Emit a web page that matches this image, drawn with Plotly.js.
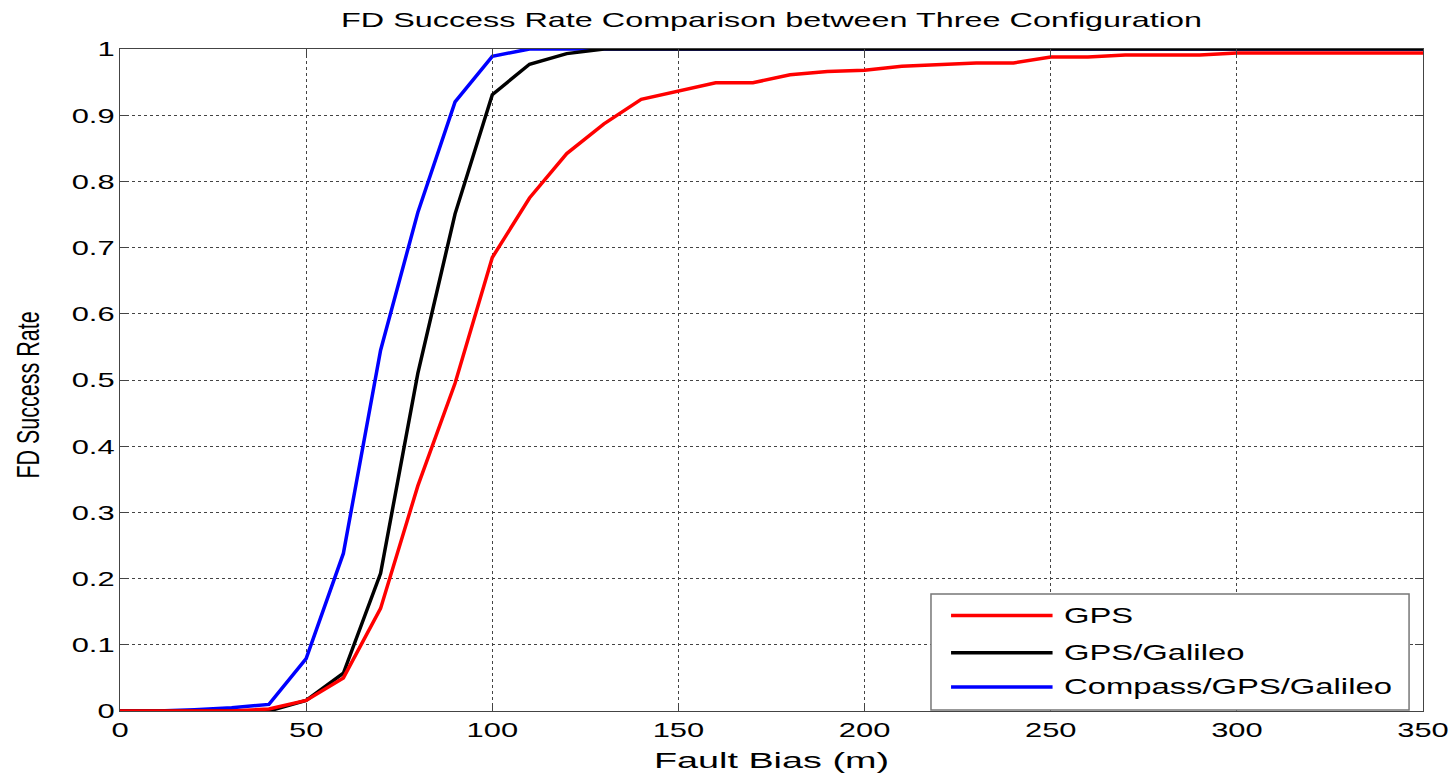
<!DOCTYPE html>
<html>
<head>
<meta charset="utf-8">
<script src="https://cdn.plot.ly/plotly-3.0.1.min.js"></script>
<style>html,body{margin:0;padding:0;background:#fff;}#chart{width:1453px;height:774px;}</style>
</head>
<body>
<div id="chart"></div>
<script>
const faultBias = [0,10,20,30,40,50,60,70,80,90,100,110,120,130,140,150,160,170,180,190,200,210,220,230,240,250,260,270,280,290,300,310,320,330,340,350];
const gps = [0,0,0,0,0.003,0.016,0.05,0.155,0.34,0.495,0.685,0.775,0.842,0.887,0.924,0.937,0.949,0.949,0.961,0.966,0.968,0.974,0.976,0.979,0.979,0.988,0.988,0.991,0.991,0.991,0.994,0.994,0.994,0.994,0.994,0.994];
const gpsGalileo = [0,0,0,0,0,0.016,0.057,0.208,0.51,0.751,0.931,0.977,0.993,1,1,1,1,1,1,1,1,1,1,1,1,1,1,1,1,1,1,1,1,1,1,1];
const compassGpsGalileo = [0,0,0.002,0.005,0.010,0.079,0.238,0.545,0.753,0.920,0.989,1,1,1,1,1,1,1,1,1,1,1,1,1,1,1,1,1,1,1,1,1,1,1,1,1];
const seriesNames = ["GPS","GPS/Galileo","Compass/GPS/Galileo"];
const seriesColors = ["#ff0000","#000000","#0000ff"];
const xTicks = [0,50,100,150,200,250,300,350];
const yTicks = [0,0.1,0.2,0.3,0.4,0.5,0.6,0.7,0.8,0.9,1];
const yTickText = ["0","0.1","0.2","0.3","0.4","0.5","0.6","0.7","0.8","0.9","1"];

const values = [gps, gpsGalileo, compassGpsGalileo];
// draw order: blue, black, red (red on top)
const order = [2,1,0];
const traces = order.map(i => ({
  x: faultBias, y: values[i], type: 'scatter', mode: 'lines', name: seriesNames[i],
  line: {color: seriesColors[i], width: 3.5}, cliponaxis: false, showlegend: false
}));

// manual legend (MATLAB style box)
const lgX0 = 0.6224, lgX1 = 0.9893, lgY0 = 0.0015, lgY1 = 0.1767;
const rowY = [0.1443, 0.0881, 0.0363];
const lineX0 = 0.6378, lineX1 = 0.7157, textX = 0.7237;
const shapes = [{type:'rect', xref:'paper', yref:'paper', x0:lgX0, x1:lgX1, y0:lgY0, y1:lgY1,
  line:{color:'#777', width:1.5}, fillcolor:'#fff', layer:'above'}];
const annotations = [];
seriesNames.forEach((n,i) => {
  shapes.push({type:'line', xref:'paper', yref:'paper', x0:lineX0, x1:lineX1, y0:rowY[i], y1:rowY[i],
    line:{color:seriesColors[i], width:3.5}, layer:'above'});
  annotations.push({xref:'paper', yref:'paper', x:textX, y:rowY[i], xanchor:'left', yanchor:'middle', align:'left',
    text:n, showarrow:false, borderpad:0, font:{family:'Liberation Sans, Arial, sans-serif', size:22, color:'#000'}});
});

const FONT = 'Liberation Sans, Arial, sans-serif';
const axisFont = {family:FONT, size:21, color:'#000'};
const layout = {
  width:1453, height:774,
  margin:{l:120, r:30, t:49, b:63},
  paper_bgcolor:'#fff', plot_bgcolor:'#fff',
  title:{text:'FD Success Rate Comparison between Three Configuration', x:0.531, xanchor:'center', y:0.974, yanchor:'middle',
    font:{family:FONT, size:21, color:'#000'}},
  xaxis:{range:[0,350], tickvals:xTicks, ticktext:xTicks.map(String), ticks:'inside', ticklen:8, tickcolor:'#444',
    showline:true, linecolor:'#444', linewidth:1.2, mirror:'ticks', zeroline:false,
    showgrid:true, gridcolor:'#444', griddash:'dot', gridwidth:1,
    tickfont:axisFont, title:{text:'Fault Bias (m)', font:{family:FONT, size:22, color:'#000'}, standoff:12}},
  yaxis:{range:[0,1], tickvals:yTicks, ticktext:yTickText, ticks:'inside', ticklen:8, tickcolor:'#444',
    showline:true, linecolor:'#444', linewidth:1.2, mirror:'ticks', zeroline:false,
    showgrid:true, gridcolor:'#444', griddash:'dot', gridwidth:1,
    tickfont:axisFont, title:{text:'FD Success Rate', font:{family:FONT, size:21.5, color:'#000'}, standoff:48}},
  shapes: shapes, annotations: annotations, showlegend:false
};

// The reference figure is horizontally stretched; widen the text glyphs to match.
function stretchBy(el, f) {
  const len = el.getComputedTextLength();
  if (!len) return;
  el.setAttribute('lengthAdjust', 'spacingAndGlyphs');
  el.setAttribute('textLength', (len * f).toFixed(1));
}
function stretchTo(el, w) {
  el.setAttribute('lengthAdjust', 'spacingAndGlyphs');
  el.setAttribute('textLength', w);
}
Plotly.newPlot('chart', traces, layout, {displayModeBar:false, staticPlot:true}).then(gd => {
  gd.querySelectorAll('g.xtick text, g.ytick text').forEach(t => stretchBy(t, 1.47));
  gd.querySelectorAll('text.gtitle').forEach(t => stretchTo(t, 861));
  gd.querySelectorAll('text.xtitle').forEach(t => stretchTo(t, 235));
  gd.querySelectorAll('text.annotation-text').forEach(t => stretchBy(t, 1.49));
  gd.querySelectorAll('text.ytitle').forEach(t => {
    const x = parseFloat(t.getAttribute('x')) - 7;
    const y = parseFloat(t.getAttribute('y'));
    const old = t.getAttribute('transform') || '';
    t.setAttribute('transform', `translate(5,15) translate(${x},${y}) scale(1.5,1) translate(${-x},${-y}) ${old}`);
  });
});
</script>
</body>
</html>
